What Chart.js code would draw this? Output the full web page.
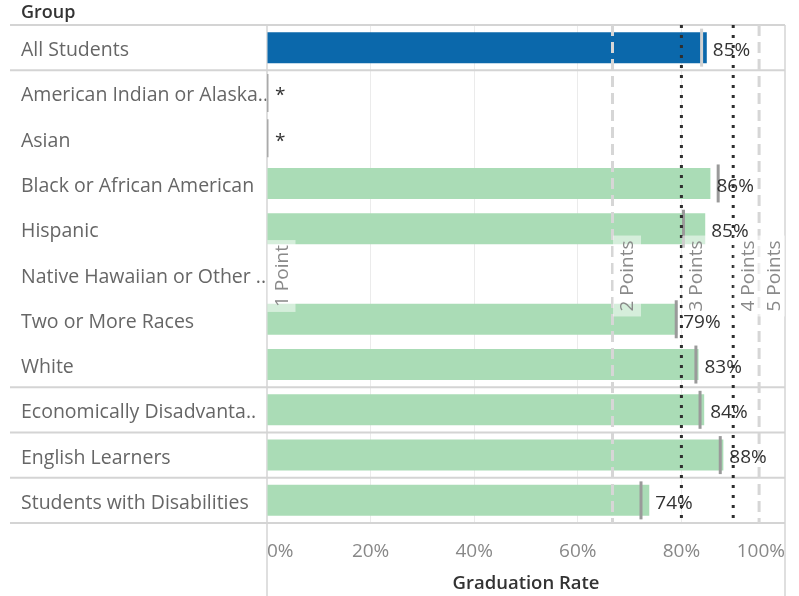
<!DOCTYPE html>
<html><head><meta charset="utf-8">
<script src="https://cdn.jsdelivr.net/npm/chart.js@4"></script>
<style>html,body{margin:0;padding:0;background:#fff}canvas{display:block}</style>
</head><body>
<canvas id="c" width="799" height="596"></canvas>
<script>
// ---- data ----
const groups = ['All Students','American Indian or Alaska..','Asian','Black or African American','Hispanic','Native Hawaiian or Other ..','Two or More Races','White','Economically Disadvanta..','English Learners','Students with Disabilities'];
const gradRate = [84.9, null, null, 85.6, 84.6, null, 79.2, 83.3, 84.4, 88.1, 73.8];
const priorRate = [83.9, 0, 0, 87.1, 80.4, null, 79.0, 82.8, 83.6, 87.5, 72.2];
const rateLabels = ['85%','*','*','86%','85%','','79%','83%','84%','88%','74%'];
const groupStarts = [1, 8, 9, 10];
const pointValues = [0, 66.7, 80, 90, 95];
const pointLabels = ['1 Point','2 Points','3 Points','4 Points','5 Points'];
const xTicks = [0, 20, 40, 60, 80, 100];

const FONT = '"Open Sans", sans-serif';
Chart.defaults.font.family = FONT;

const refStyle = [
  null,
  {color:'#d6d6d6', dash:[11,6], width:3},
  {color:'#2e2e2e', dash:[3,7], width:3},
  {color:'#2e2e2e', dash:[3,7], width:3},
  {color:'#d6d6d6', dash:[11,6], width:3}
];

const decor = {
  id: 'decor',
  beforeDatasetsDraw(chart) {
    const {ctx, chartArea: ca, scales: {y}} = chart;
    const half = (y.getPixelForValue(1) - y.getPixelForValue(0)) / 2;
    ctx.save();
    ctx.strokeStyle = '#d4d4d4';
    ctx.lineWidth = 2;
    const bounds = [0, ...groupStarts, groups.length];
    bounds.forEach(i => {
      const py = i < groups.length ? y.getPixelForValue(i) - half : y.getPixelForValue(groups.length - 1) + half;
      ctx.beginPath(); ctx.moveTo(10, py); ctx.lineTo(ca.right, py); ctx.stroke();
    });
    ctx.lineWidth = 1.5;
    [ca.left, ca.right].forEach(px => {
      ctx.beginPath(); ctx.moveTo(px, ca.top); ctx.lineTo(px, chart.height); ctx.stroke();
    });
    ctx.fillStyle = '#333';
    ctx.font = '600 18px ' + FONT;
    ctx.textAlign = 'left';
    ctx.textBaseline = 'alphabetic';
    ctx.fillText('Group', 21, 18);
    ctx.restore();
  },
  afterDatasetsDraw(chart) {
    const {ctx, chartArea: ca, scales: {x, y}} = chart;
    ctx.save();
    ctx.beginPath(); ctx.rect(ca.left, ca.top, ca.right - ca.left, ca.bottom - ca.top); ctx.clip();
    pointValues.forEach((v, i) => {
      const st = refStyle[i];
      if (!st) return;
      const px = x.getPixelForValue(v);
      ctx.save();
      ctx.strokeStyle = st.color; ctx.lineWidth = st.width; ctx.setLineDash(st.dash);
      ctx.beginPath(); ctx.moveTo(px, ca.top); ctx.lineTo(px, ca.bottom); ctx.stroke();
      ctx.restore();
    });
    const cy = (ca.top + ca.bottom) / 2 + 2;
    ctx.font = '19px ' + FONT;
    pointValues.forEach((v, i) => {
      const px = x.getPixelForValue(v);
      const t = pointLabels[i];
      const w = ctx.measureText(t).width;
      ctx.save();
      ctx.translate(px + 15.5, cy);
      ctx.rotate(-Math.PI / 2);
      ctx.fillStyle = 'rgba(255,255,255,0.5)';
      ctx.fillRect(-w / 2 - 5, -15, w + 10, 28);
      ctx.fillStyle = '#8a8a8a';
      ctx.textAlign = 'center'; ctx.textBaseline = 'middle';
      ctx.fillText(t, 0, 0);
      ctx.restore();
    });
    ctx.restore();
    // value labels
    ctx.save();
    ctx.font = '19px ' + FONT;
    ctx.fillStyle = '#333';
    ctx.textAlign = 'left'; ctx.textBaseline = 'middle';
    rateLabels.forEach((t, i) => {
      if (!t) return;
      const px = x.getPixelForValue(gradRate[i] == null ? 0 : gradRate[i]);
      ctx.fillText(t, px + (gradRate[i] == null ? 8 : 6), y.getPixelForValue(i) + 3);
    });
    ctx.restore();
  }
};

new Chart(document.getElementById('c'), {
  type: 'bar',
  data: {
    labels: groups,
    datasets: [
      {
        type: 'line',
        indexAxis: 'y',
        data: priorRate,
        showLine: false,
        pointStyle: 'line',
        rotation: 90,
        pointRadius: 19,
        pointHoverRadius: 19,
        borderWidth: 3,
        pointBorderWidth: 3,
        pointBorderColor: c => c.dataIndex === 0 ? '#d2d2d2' : (priorRate[c.dataIndex] === 0 ? '#aaaaaa' : '#9a9a9a'),
        borderColor: '#9a9a9a',
        clip: 0,
        order: 0
      },
      {
        type: 'bar',
        data: gradRate,
        backgroundColor: c => c.dataIndex === 0 ? '#0b68ab' : '#aadcb6',
        categoryPercentage: 0.685,
        barPercentage: 1,
        order: 1
      }
    ]
  },
  options: {
    indexAxis: 'y',
    responsive: false,
    devicePixelRatio: 1,
    animation: false,
    layout: {autoPadding: false, padding: {top: 25, right: 14, bottom: 0, left: 21}},
    plugins: {legend: {display: false}, tooltip: {enabled: false}},
    scales: {
      y: {
        type: 'category',
        grid: {display: false},
        border: {display: false},
        ticks: {autoSkip: false, crossAlign: 'far', labelOffset: 3, color: '#666', font: {size: 19.5}},
        afterFit: s => { s.width = 246; s.paddingTop = 0; s.paddingBottom = 0; }
      },
      x: {
        type: 'linear',
        min: 0, max: 100,
        afterBuildTicks: s => { s.ticks = xTicks.map(v => ({value: v})); },
        grid: {drawTicks: false, lineWidth: 1, color: c => (c.tick && (c.tick.value === 0 || c.tick.value === 100)) ? 'rgba(0,0,0,0)' : '#ebebeb'},
        border: {display: false},
        ticks: {align: 'inner', padding: 17, color: '#888', font: {size: 19}, callback: v => v + '%'},
        title: {display: true, text: 'Graduation Rate', color: '#333', font: {size: 18.5, weight: '600'}, padding: {top: 0, bottom: 1}},
        afterFit: s => { s.height = 73; s.paddingLeft = 0; s.paddingRight = 0; }
      }
    }
  },
  plugins: [decor]
});
</script>
</body></html>
